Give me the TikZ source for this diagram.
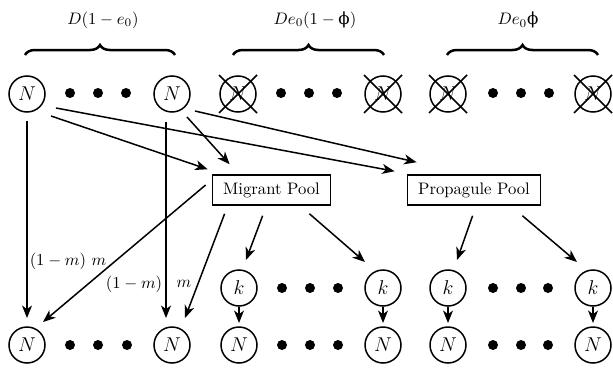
\documentclass[tikz,border=0pt]{standalone}
\usepackage{fontspec}
\newfontfamily\grkfont{DejaVu Serif}
\usetikzlibrary{arrows.meta,calc,decorations.pathreplacing}
\begin{document}
\begin{tikzpicture}[x=0.6pt,y=-0.6pt,
  cnode/.style={circle,draw,line width=0.9pt,minimum size=21.6pt,inner sep=0pt,font=\large},
  pool/.style={draw,line width=0.9pt,inner xsep=6.5pt,minimum height=18pt},
  dotn/.style={circle,fill,inner sep=0pt,minimum size=6pt},
  arr/.style={line width=0.9pt,-{Stealth[length=7.5pt,width=6pt,inset=2.2pt]}},
  brc/.style={decorate,decoration={brace,amplitude=6pt},line width=1.5pt},
  xline/.style={line width=0.9pt},
  lab/.style={font=\large}
]
\useasboundingbox (0,0) rectangle (613,367);

% braces and labels
\draw[brc] (25,55) -- (175,55);
\draw[brc] (233,55) -- (384,55);
\draw[brc] (447,55) -- (598,55);
\node (lab1) at (103,20) {$D(1-e_0)$};
\node (lab2) at (315,20) {$De_0(1-\mbox{\grkfont ϕ})$};
\node (lab3) at (518,20) {$De_0\mbox{\grkfont ϕ}$};

% top row
\node[cnode] (tN1) at (27,94) {$N$};
\node[cnode] (tN2) at (172,94) {$N$};
\node[cnode] (tX1) at (238,94) {$N$};
\node[cnode] (tX2) at (383,94) {$N$};
\node[cnode] (tX3) at (448,94) {$N$};
\node[cnode] (tX4) at (593,94) {$N$};
\foreach \n in {tX1,tX2,tX3,tX4}{
  \draw[xline] ($(\n)+(-19,-19)$) -- ($(\n)+(19,19)$);
  \draw[xline] ($(\n)+(-19,19)$) -- ($(\n)+(19,-19)$);
}
\foreach \x/\i in {70/a,98/b,126/c,281/d,309/e,337/f,493/g,521/h,549/i}{
  \node[dotn] (td\i) at (\x,93) {};
}

% pools
\node[pool] (mig) at (271.5,190) {Migrant Pool};
\node[pool] (prop) at (474,190) {Propagule Pool};

% k row
\node[cnode] (k1) at (239,288) {$k$};
\node[cnode] (k2) at (383,288) {$k$};
\node[cnode] (k3) at (448,288) {$k$};
\node[cnode] (k4) at (593,288) {$k$};
\foreach \x/\i in {282/a,310/b,338/c,493/d,521/e,548/f}{
  \node[dotn] (kd\i) at (\x,288) {};
}

% bottom row
\node[cnode] (bN1) at (27,345) {$N$};
\node[cnode] (bN2) at (172,345) {$N$};
\node[cnode] (bN3) at (239,345) {$N$};
\node[cnode] (bN4) at (383,345) {$N$};
\node[cnode] (bN5) at (448,345) {$N$};
\node[cnode] (bN6) at (593,345) {$N$};
\foreach \x/\i in {70/a,98/b,127/c,282/d,310/e,338/f,493/g,521/h,548/i}{
  \node[dotn] (bd\i) at (\x,345) {};
}

% arrows from top
\draw[arr] ($(tN1)+(0,27)$) -- ($(bN1)+(0,-27)$);
\draw[arr] ($(tN2)+(-6,28)$) -- ($(bN2)+(-6,-27)$);
\draw[arr] ($(tN1)+(29,14)$) -- ($(prop.north west)+(-12,-3)$);
\draw[arr] ($(tN1)+(24,22)$) -- ($(mig.north west)+(-4,-5)$);
\draw[arr] ($(tN2)+(23,17)$) -- ($(prop.north west)+(10,-12)$);
\draw[arr] ($(tN2)+(15,23)$) -- ($(mig.north west)+(18,-10)$);

% arrows from pools
\draw[arr] ($(mig.west)+(-6,-5)$) -- ($(bN1)+(16,-23)$);
\draw[arr] ($(mig.south west)+(13,8)$) -- ($(bN2)+(13,-27)$);
\draw[arr] ($(mig.south west)+(51,10)$) -- ($(k1)+(7,-28)$);
\draw[arr] ($(mig.south east)+(-22,8)$) -- ($(k2)+(-18,-26)$);
\draw[arr] ($(prop.south west)+(66,10)$) -- ($(k3)+(9,-28)$);
\draw[arr] ($(prop.south east)+(-19,10)$) -- ($(k4)+(-16,-26)$);

% k to N
\draw[arr] ($(k1)+(0,19)$) -- ($(bN3)+(0,-22)$);
\draw[arr] ($(k2)+(0,19)$) -- ($(bN4)+(0,-22)$);
\draw[arr] ($(k3)+(0,19)$) -- ($(bN5)+(0,-22)$);
\draw[arr] ($(k4)+(0,19)$) -- ($(bN6)+(0,-22)$);

% labels
\node (m1) at (68,261) {$(1-m)\ m$};
\node (m2) at (134,284) {$(1-m)$};
\node (m3) at (184,284) {$m$};
\end{tikzpicture}
\end{document}
